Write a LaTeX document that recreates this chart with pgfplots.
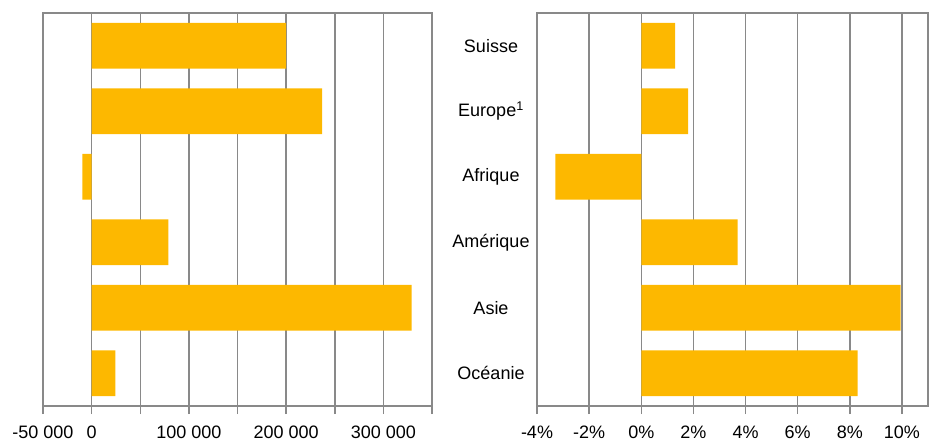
\documentclass[border=0pt]{standalone}
\usepackage{pgfplots}
\pgfplotsset{compat=1.18}
\usepackage{fontspec}
\setmainfont{Liberation Sans}
\definecolor{barc}{RGB}{253,184,0}
\definecolor{gridc}{RGB}{137,137,137}
\begin{document}
\begin{tikzpicture}
\useasboundingbox (0,0) rectangle (929pt,441pt);
\pgfplotsset{
  common/.style={
    scale only axis, anchor=south west, height=393pt,
    xbar, bar shift=0pt, bar width=0.7,
    y dir=reverse, ymin=-0.5, ymax=5.5,
    xmajorgrids, grid style={gridc, line width=1.5pt},
    axis line style={gridc, line width=1.8pt},
    tick style={gridc, line width=1.5pt},
    xtick pos=bottom, xtick align=outside, major tick length=8pt,
    y tick style={draw=none},
    ticklabel style={font=\fontsize{18}{21}\selectfont, text=black},
    xticklabel style={yshift=-8pt},
    scaled x ticks=false,
  },
}
\begin{axis}[common, at={(43pt,35pt)}, width=389pt,
  xmin=-50000, xmax=350000,
  xtick={-50000,0,50000,100000,150000,200000,250000,300000,350000},
  xticklabels={-50 000,0,,100 000,,200 000,,300 000,},
  ytick=\empty]
\addplot[fill=barc, draw=none] coordinates {(200000,0) (237000,1) (-9500,2) (79000,3) (329000,4) (24500,5)};
\end{axis}
\begin{axis}[common, at={(537pt,35pt)}, width=391pt,
  xmin=-4, xmax=11,
  xtick={-4,-2,0,2,4,6,8,10},
  xticklabels={-4\%,-2\%,0\%,2\%,4\%,6\%,8\%,10\%},
  ytick={0,1,2,3,4,5},
  yticklabels={Suisse,Europe\textsuperscript{1},Afrique,Amérique,Asie,Océanie},
  yticklabel style={anchor=center, xshift=-38pt}]
\addplot[fill=barc, draw=none] coordinates {(1.3,0) (1.8,1) (-3.3,2) (3.7,3) (9.95,4) (8.3,5)};
\end{axis}
\end{tikzpicture}
\end{document}
